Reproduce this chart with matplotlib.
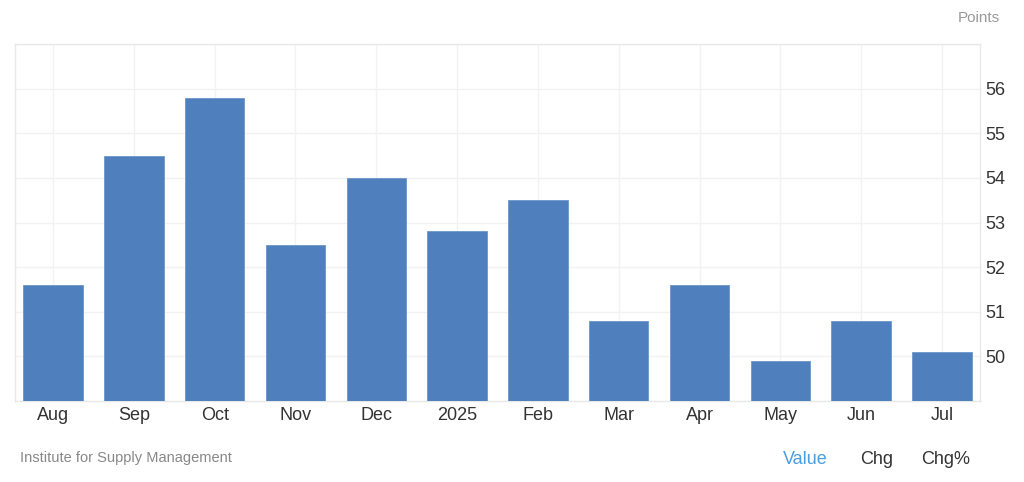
import matplotlib.pyplot as plt

plt.rcParams['font.family'] = ['Liberation Sans', 'DejaVu Sans']

months = ['Aug', 'Sep', 'Oct', 'Nov', 'Dec', '2025', 'Feb', 'Mar', 'Apr', 'May', 'Jun', 'Jul']
values = [51.6, 54.5, 55.8, 52.5, 54.0, 52.8, 53.5, 50.8, 51.6, 49.9, 50.8, 50.1]
y_ticks = [50, 51, 52, 53, 54, 55, 56]

fig = plt.figure(figsize=(10.24, 4.82), dpi=100)
ax = fig.add_axes([15 / 1024, 81 / 482, 965 / 1024, 357 / 482])

x = list(range(len(months)))
ax.bar(x, values, width=0.735, color='#4f80bd', edgecolor='#6b96c9', linewidth=0.6, zorder=3)

ax.set_xlim(-0.47, 11.47)
ax.set_ylim(49, 57)
ax.set_xticks(x)
ax.set_xticklabels(months)
ax.set_yticks(y_ticks)
ax.yaxis.tick_right()
ax.tick_params(axis='both', length=0, labelsize=13, colors='#333333')
ax.tick_params(axis='y', pad=4)
ax.tick_params(axis='x', pad=4)

ax.grid(True, color='#f2f2f2', linewidth=1, zorder=0)
for s in ax.spines.values():
    s.set_color('#e8e8e8')
    s.set_linewidth(1)
# top gridline at 57
ax.axhline(57, color='#f2f2f2', linewidth=1, zorder=0)

fig.text(1000 / 1024, 1 - 18 / 482, 'Points', ha='right', va='center', fontsize=11, color='#999999')
fig.text(20 / 1024, 1 - 458 / 482, 'Institute for Supply Management', ha='left', va='center',
         fontsize=10.5, color='#888888')
fig.text(783 / 1024, 1 - 459 / 482, 'Value', ha='left', va='center', fontsize=13, color='#4a9ee0')
fig.text(860 / 1024, 1 - 459 / 482, 'Chg', ha='left', va='center', fontsize=13, color='#333333')
fig.text(921 / 1024, 1 - 459 / 482, 'Chg%', ha='left', va='center', fontsize=13, color='#333333')

fig.savefig('out.png', dpi=100)
